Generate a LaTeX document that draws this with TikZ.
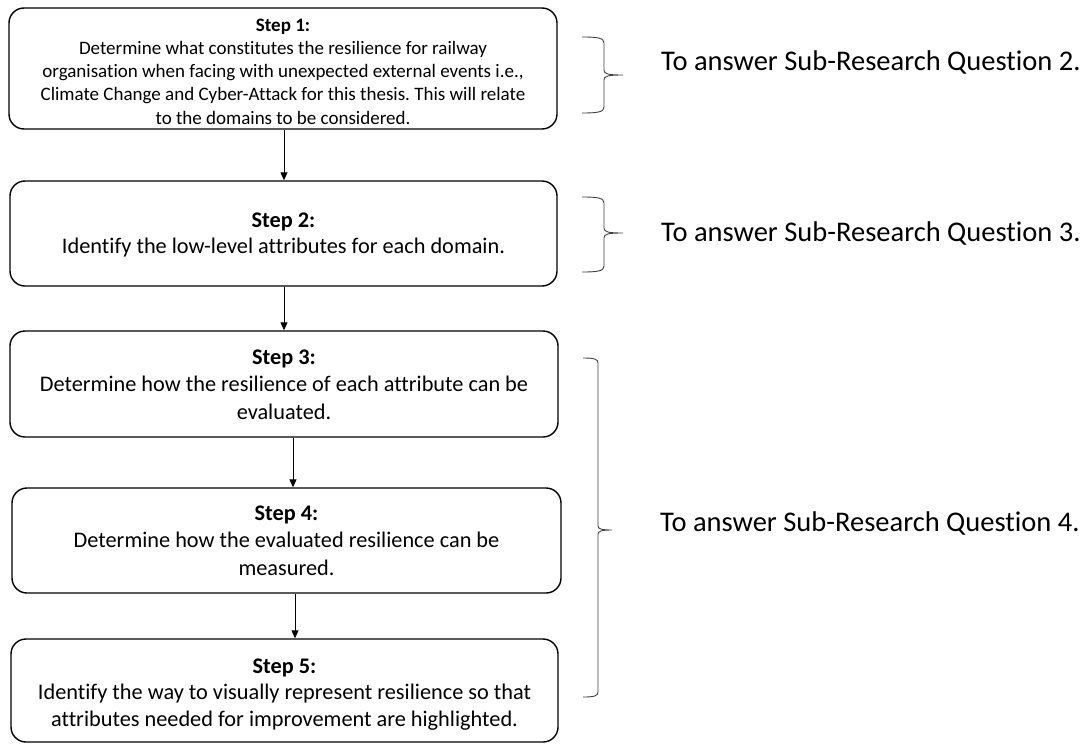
\documentclass[tikz,border=0pt]{standalone}
\usepackage{fontspec}
\setmainfont{Carlito}[Ligatures=NoCommon]
\usetikzlibrary{arrows.meta}
\frenchspacing
\newcommand\topstrut[1]{\rule{0pt}{#1pt}}
\newcommand\botstrut{\rule[-5pt]{0pt}{5pt}}
\tikzset{
  stepbox/.style={draw=black, line width=1.4pt, rounded corners=15pt, align=center, inner sep=0pt},
  arr/.style={draw=black, line width=0.9pt, -{Triangle[length=8pt,width=7pt]}},
  bracepath/.style={draw=black!75, line width=0.9pt},
  answer/.style={anchor=base west, inner sep=0pt, font=\fontsize{28.5}{34}\selectfont}
}
\begin{document}
\begin{tikzpicture}[x=1pt,y=-1pt]
\useasboundingbox (0,0) rectangle (1091,744);
\node[stepbox, font=\fontsize{19}{23.25}\selectfont, minimum width=548pt, minimum height=119pt] (b1) at (283,68.5)
  {\topstrut{23}\textbf{Step 1:}\\Determine what constitutes the resilience for railway\\organisation when facing with unexpected external events i.e.,\\Climate Change and Cyber-Attack for this thesis. This will relate\\to the domains to be considered.\botstrut};
\node[stepbox, font=\fontsize{22.3}{25.5}\selectfont, minimum width=547pt, minimum height=105pt] (b2) at (283.5,233.5)
  {\topstrut{19}\textbf{Step 2:}\\Identify the low-level attributes for each domain.\botstrut};
\node[stepbox, font=\fontsize{22.3}{27.5}\selectfont, minimum width=548pt, minimum height=106pt] (b3) at (284,384)
  {\topstrut{20}\textbf{Step 3:}\\Determine how the resilience of each attribute can be\\evaluated.\botstrut};
\node[stepbox, font=\fontsize{22.3}{27.5}\selectfont, minimum width=549pt, minimum height=105pt] (b4) at (286.5,540.5)
  {\topstrut{19}\textbf{Step 4:}\\Determine how the evaluated resilience can be\\measured.\botstrut};
\node[stepbox, font=\fontsize{22.3}{26.5}\selectfont, minimum width=547pt, minimum height=103pt] (b5) at (284.5,690.5)
  {\topstrut{23}\textbf{Step 5:}\\Identify the way to visually represent resilience so that\\attributes needed for improvement are highlighted.\botstrut};

\draw[arr] (284,0 |- b1.south) -- (284,0 |- b2.north);
\draw[arr] (284,0 |- b2.south) -- (284,0 |- b3.north);
\draw[arr] (293,0 |- b3.south) -- (293,0 |- b4.north);
\draw[arr] (295,0 |- b4.south) -- (295,0 |- b5.north);

% braces
\draw[bracepath] (582,37) .. controls (598,37) and (604,38) .. (604,43) -- (604,70)
  .. controls (604,74) and (608,75) .. (623,75)
  (623,75) .. controls (608,75) and (604,76) .. (604,80) -- (604,107)
  .. controls (604,112) and (598,113) .. (582,113);
\draw[bracepath] (582,197) .. controls (598,197) and (604,198) .. (604,203) -- (604,228)
  .. controls (604,232) and (608,233) .. (623,233)
  (623,233) .. controls (608,233) and (604,234) .. (604,238) -- (604,266)
  .. controls (604,271) and (598,272) .. (582,272);
\draw[bracepath] (583,358) .. controls (594,358) and (598,359) .. (598,363) -- (598,526)
  .. controls (598,529) and (602,530) .. (612,530)
  (612,530) .. controls (602,530) and (598,531) .. (598,534) -- (598,692)
  .. controls (598,696) and (594,697) .. (583,697);

\node[answer] (q2) at (661,70) {To answer Sub-Research Question 2.};
\node[answer] (q3) at (661,241) {To answer Sub-Research Question 3.};
\node[answer] (q4) at (660,531) {To answer Sub-Research Question 4.};
\end{tikzpicture}
\end{document}
